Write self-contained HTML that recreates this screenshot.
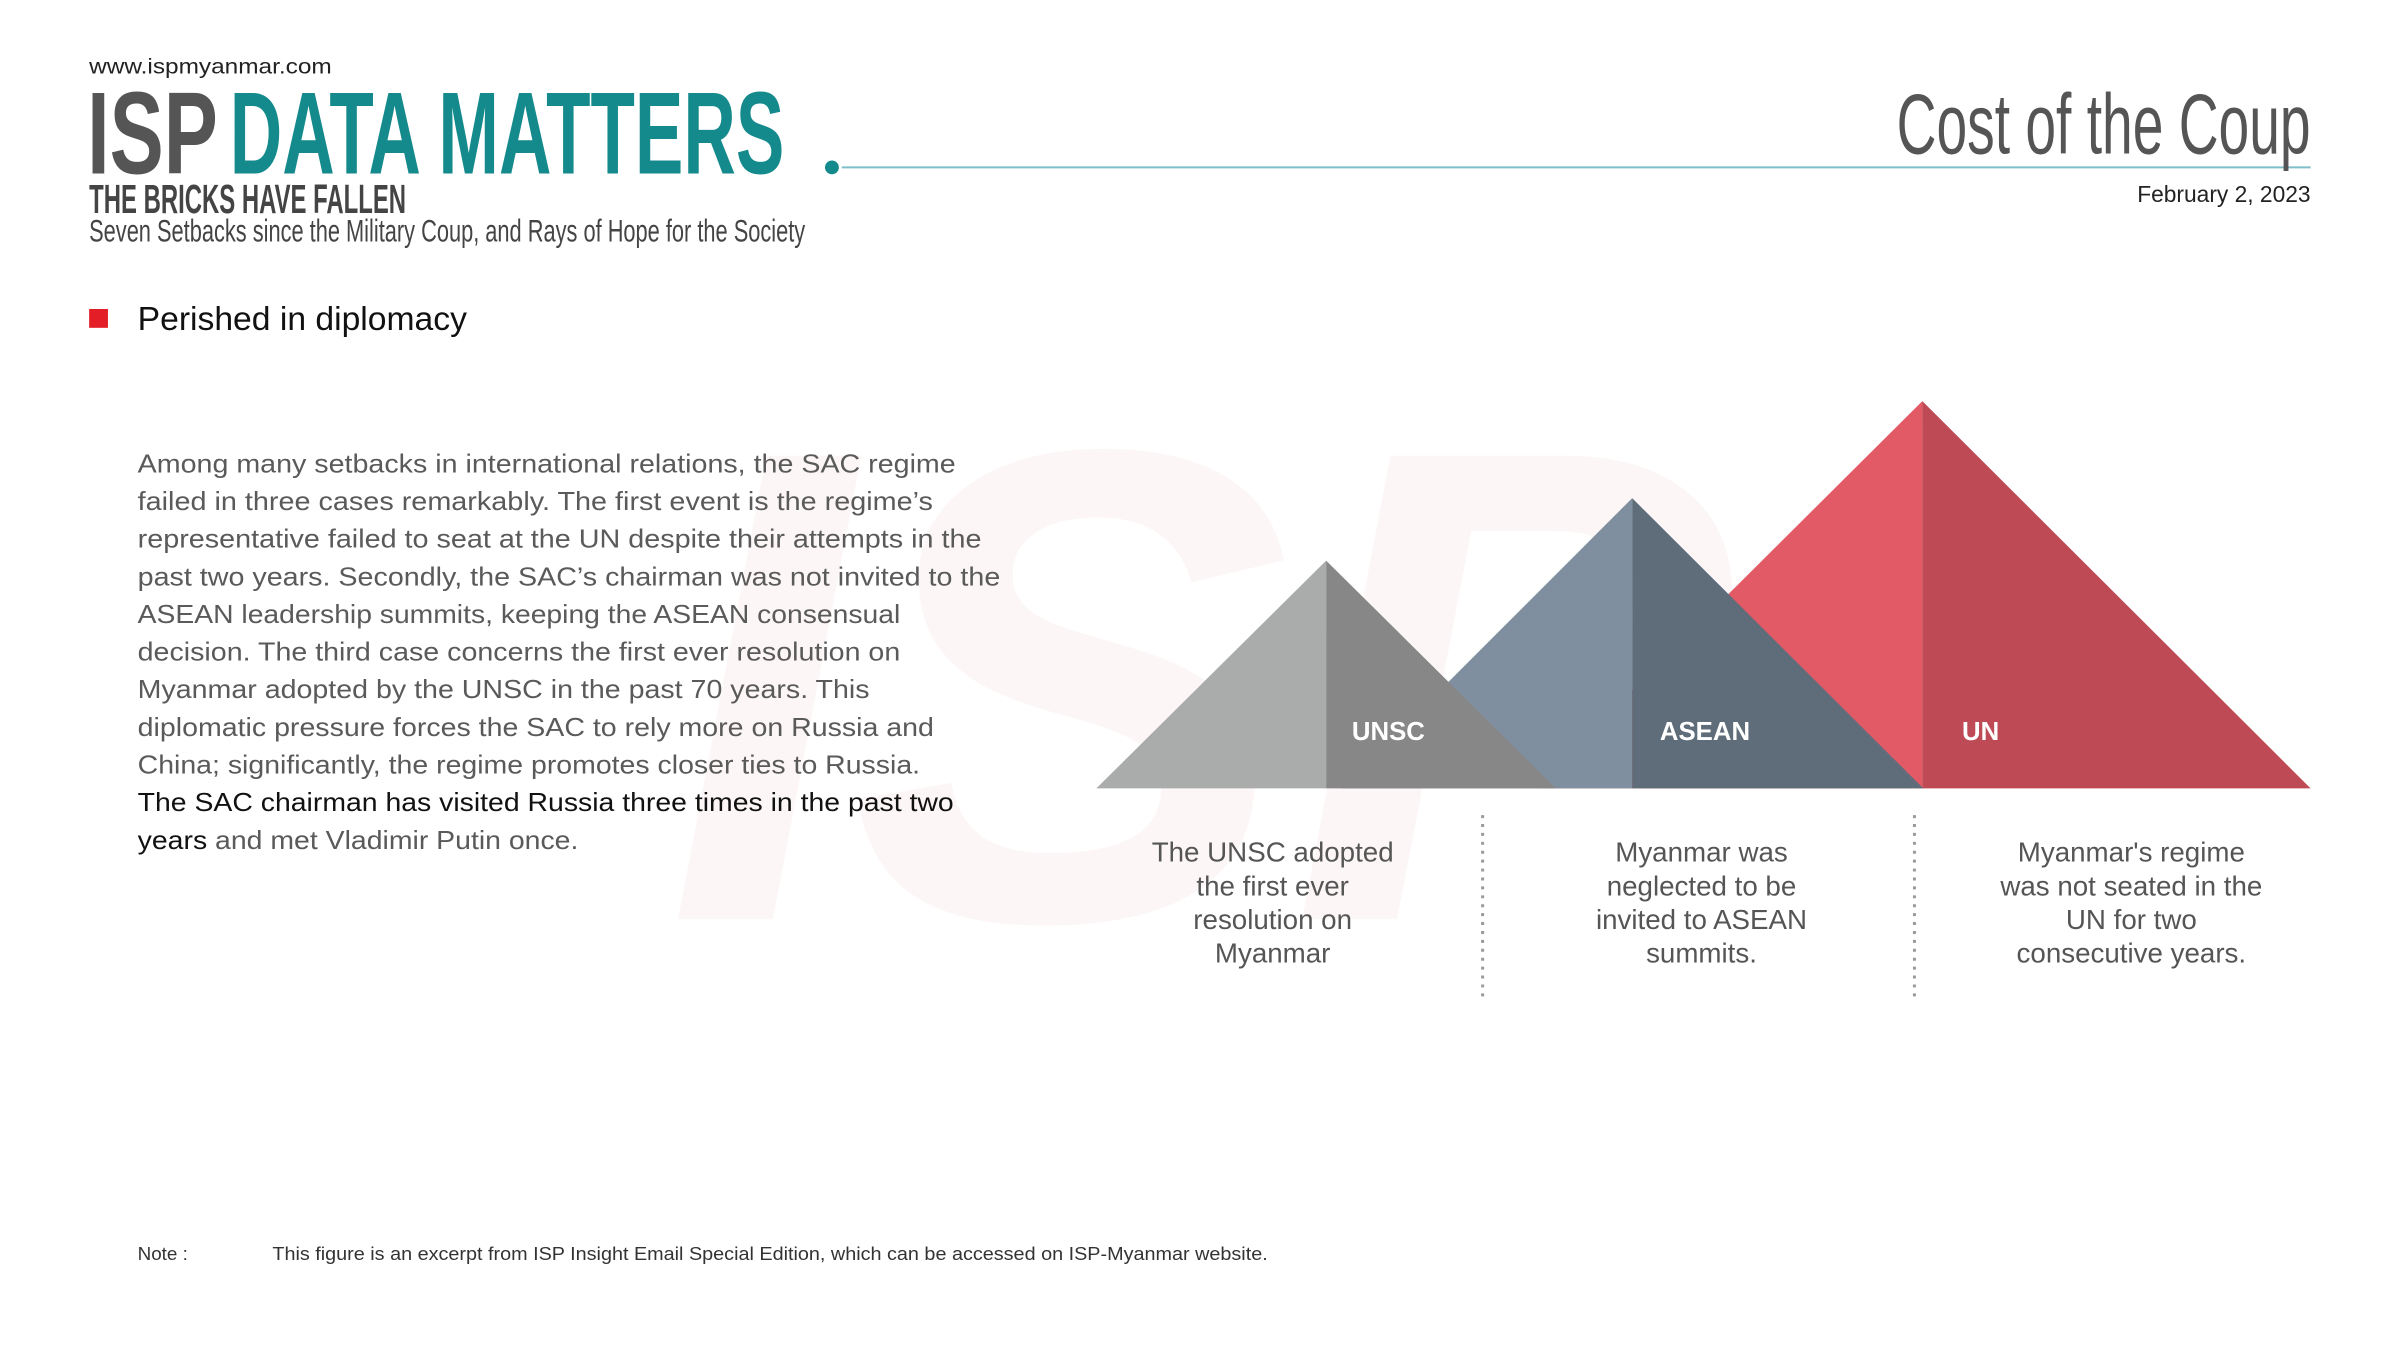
<!DOCTYPE html>
<html><head><meta charset="utf-8"><style>
html,body{margin:0;padding:0;background:#fff;}
svg{display:block;}
text{font-family:"Liberation Sans",sans-serif;}
</style></head><body>
<svg width="2400" height="1350" viewBox="0 0 2400 1350" xmlns="http://www.w3.org/2000/svg">
<rect width="2400" height="1350" fill="#fff"/>
<g transform="scale(0.9904)">
<!-- watermark -->
<text x="673" y="928" font-size="680" font-weight="bold" font-style="italic" fill="#fdf6f7" textLength="1075" lengthAdjust="spacingAndGlyphs">ISP</text>

<!-- header -->
<text x="90" y="74" font-size="21" fill="#222" textLength="245" lengthAdjust="spacingAndGlyphs">www.ispmyanmar.com</text>
<text x="88" y="175" font-size="118" font-weight="bold" fill="#555" textLength="132" lengthAdjust="spacingAndGlyphs">ISP</text>
<text x="232" y="175" font-size="118" font-weight="bold" fill="#148a8c" textLength="560" lengthAdjust="spacingAndGlyphs">DATA MATTERS</text>
<circle cx="840" cy="169" r="7" fill="#148a8c"/>
<line x1="850" y1="169" x2="2333" y2="169" stroke="#7fbfc9" stroke-width="2"/>
<text x="90" y="215" font-size="41" font-weight="bold" fill="#444" textLength="320" lengthAdjust="spacingAndGlyphs">THE BRICKS HAVE FALLEN</text>
<text x="90" y="244" font-size="32" fill="#444" textLength="723" lengthAdjust="spacingAndGlyphs">Seven Setbacks since the Military Coup, and Rays of Hope for the Society</text>
<text x="1915" y="155" font-size="86" fill="#555" textLength="418" lengthAdjust="spacingAndGlyphs">Cost of the Coup</text>
<text x="2333" y="204" font-size="23" fill="#222" text-anchor="end">February 2, 2023</text>

<!-- section title -->
<rect x="90" y="312" width="19" height="19" fill="#e31e26"/>
<text x="139" y="333" font-size="34" fill="#111">Perished in diplomacy</text>

<!-- paragraph -->
<g font-size="26" fill="#5a5a5a">
<text x="139" y="477" textLength="826" lengthAdjust="spacingAndGlyphs">Among many setbacks in international relations, the SAC regime</text>
<text x="139" y="515" textLength="803" lengthAdjust="spacingAndGlyphs">failed in three cases remarkably. The first event is the regime’s</text>
<text x="139" y="553" textLength="852" lengthAdjust="spacingAndGlyphs">representative failed to seat at the UN despite their attempts in the</text>
<text x="139" y="591" textLength="871" lengthAdjust="spacingAndGlyphs">past two years. Secondly, the SAC’s chairman was not invited to the</text>
<text x="139" y="629" textLength="770" lengthAdjust="spacingAndGlyphs">ASEAN leadership summits, keeping the ASEAN consensual</text>
<text x="139" y="667" textLength="770" lengthAdjust="spacingAndGlyphs">decision. The third case concerns the first ever resolution on</text>
<text x="139" y="705" textLength="739" lengthAdjust="spacingAndGlyphs">Myanmar adopted by the UNSC in the past 70 years. This</text>
<text x="139" y="743" textLength="804" lengthAdjust="spacingAndGlyphs">diplomatic pressure forces the SAC to rely more on Russia and</text>
<text x="139" y="781" textLength="790" lengthAdjust="spacingAndGlyphs">China; significantly, the regime promotes closer ties to Russia.</text>
<text x="139" y="819" fill="#111" textLength="824" lengthAdjust="spacingAndGlyphs">The SAC chairman has visited Russia three times in the past two</text>
<text x="139" y="857" textLength="445" lengthAdjust="spacingAndGlyphs"><tspan fill="#111">years</tspan> and met Vladimir Putin once.</text>
</g>

<!-- triangles -->
<polygon points="1941,405 1548,796 1941,796" fill="#e25a66"/>
<polygon points="1941,405 1941,796 2333,796" fill="#bd4a55"/>
<polygon points="1648,503 1355,796 1648,796" fill="#7f8fa0"/>
<polygon points="1648,503 1648,796 1942,796" fill="#5f6d7b"/>
<polygon points="1339,566 1107,796 1339,796" fill="#aaabab"/>
<polygon points="1339,566 1339,796 1571,796" fill="#878787"/>
<g font-size="26" font-weight="bold" fill="#fff">
<text x="1365" y="747">UNSC</text>
<text x="1676" y="747">ASEAN</text>
<text x="1981" y="747">UN</text>
</g>

<!-- dotted separators -->
<line x1="1497" y1="823" x2="1497" y2="1010" stroke="#999" stroke-width="3" stroke-dasharray="3,6"/>
<line x1="1933" y1="823" x2="1933" y2="1010" stroke="#999" stroke-width="3" stroke-dasharray="3,6"/>

<!-- captions -->
<g font-size="28" fill="#555" text-anchor="middle">
<text x="1285" y="870">The UNSC adopted</text>
<text x="1285" y="904">the first ever</text>
<text x="1285" y="938">resolution on</text>
<text x="1285" y="972">Myanmar</text>
<text x="1718" y="870">Myanmar was</text>
<text x="1718" y="904">neglected to be</text>
<text x="1718" y="938">invited to ASEAN</text>
<text x="1718" y="972">summits.</text>
<text x="2152" y="870">Myanmar's regime</text>
<text x="2152" y="904">was not seated in the</text>
<text x="2152" y="938">UN for two</text>
<text x="2152" y="972">consecutive years.</text>
</g>

<!-- note -->
<text x="139" y="1272" font-size="19" fill="#333">Note :</text>
<text x="275" y="1272" font-size="19" fill="#333" textLength="1005" lengthAdjust="spacingAndGlyphs">This figure is an excerpt from ISP Insight Email Special Edition, which can be accessed on ISP-Myanmar website.</text>
</g>
</svg>
</body></html>
